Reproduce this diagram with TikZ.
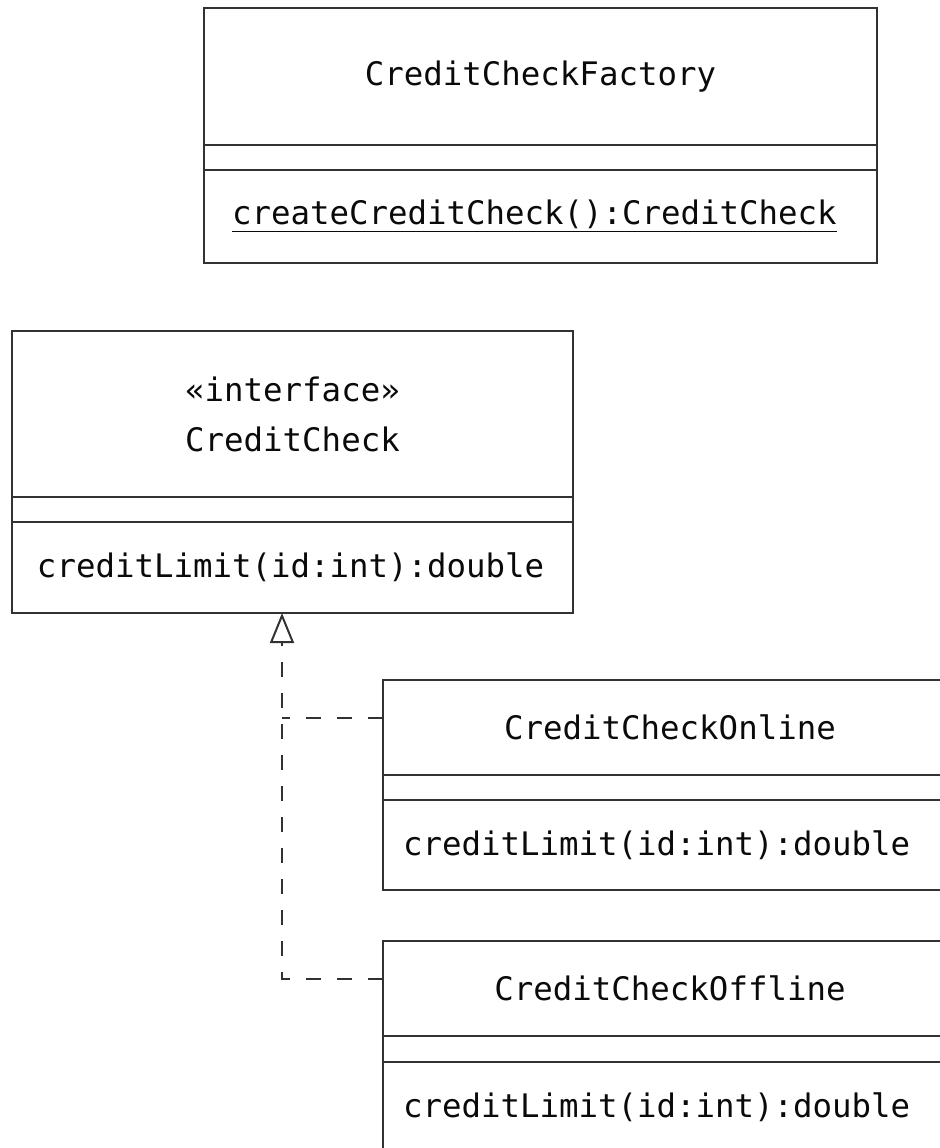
\documentclass[tikz,border=0pt]{standalone}
\usepackage{fontspec}
\usepackage{tikz}
\usetikzlibrary{arrows.meta, positioning}
\newfontfamily\umlfont{DejaVu Sans Mono}
\definecolor{umlline}{RGB}{50, 50, 50}
\definecolor{umltext}{RGB}{10, 10, 10}

\begin{document}
\begin{tikzpicture}[node distance=0pt, >=Stealth,
   cls/.style={draw=umlline, line width=1pt, outer sep=0pt, inner sep=0pt,
               text=umltext, font=\umlfont\fontsize{16.2}{25}\selectfont, align=center},
   opsbox/.style={cls, align=left},
   realize/.style={draw=umlline, line width=1pt, dash pattern=on 7.5pt off 8pt}]
  \useasboundingbox (0,0) rectangle (470pt,-574pt);
  \clip (0,0) rectangle (470pt,-574pt);
  % factory
  \node[cls, anchor=north west, minimum width=336.5pt, minimum height=68.5pt] (factory) at (102pt,-4pt) {CreditCheckFactory};
  \node[cls, below=of factory, minimum width=336.5pt, minimum height=12.5pt] (factoryattr) {};
  \node[opsbox, below=of factoryattr, text width=308.5pt, inner xsep=14pt, minimum height=46.5pt] (factoryops) {\underline{createCreditCheck():CreditCheck}};
  % interface
  \node[cls, anchor=north west, minimum width=280.5pt, minimum height=83pt] (iface) at (6pt,-165.5pt) {«interface»\\CreditCheck};
  \node[cls, below=of iface, minimum width=280.5pt, minimum height=12.5pt] (ifaceattr) {};
  \node[opsbox, below=of ifaceattr, text width=255.5pt, inner xsep=12.5pt, minimum height=45.5pt] (ifaceops) {creditLimit(id:int):double};
  % implementations
  \node[cls, anchor=north west, minimum width=287pt, minimum height=47.5pt] (online) at (191.5pt,-340pt) {CreditCheckOnline};
  \node[cls, below=of online, minimum width=287pt, minimum height=12.5pt] (onlineattr) {};
  \node[opsbox, below=of onlineattr, text width=267pt, inner xsep=10pt, minimum height=45pt] (onlineops) {creditLimit(id:int):double};
  \node[cls, anchor=north west, minimum width=287pt, minimum height=47.5pt] (offline) at (191.5pt,-470.5pt) {CreditCheckOffline};
  \node[cls, below=of offline, minimum width=287pt, minimum height=13pt] (offlineattr) {};
  \node[opsbox, below=of offlineattr, text width=267pt, inner xsep=10pt, minimum height=45pt] (offlineops) {creditLimit(id:int):double};
  % realization
  \coordinate (tip) at ([xshift=-5.25pt]ifaceops.south);
  \coordinate (onjoin) at ([yshift=5pt]online.west);
  \coordinate (offjoin) at ([yshift=5pt]offline.west);
  \draw[realize, -{Triangle[open, length=15pt, width=12pt]}] (offjoin) -| (tip);
  \draw[realize] (onjoin) -- (onjoin -| tip);
\end{tikzpicture}
\end{document}
